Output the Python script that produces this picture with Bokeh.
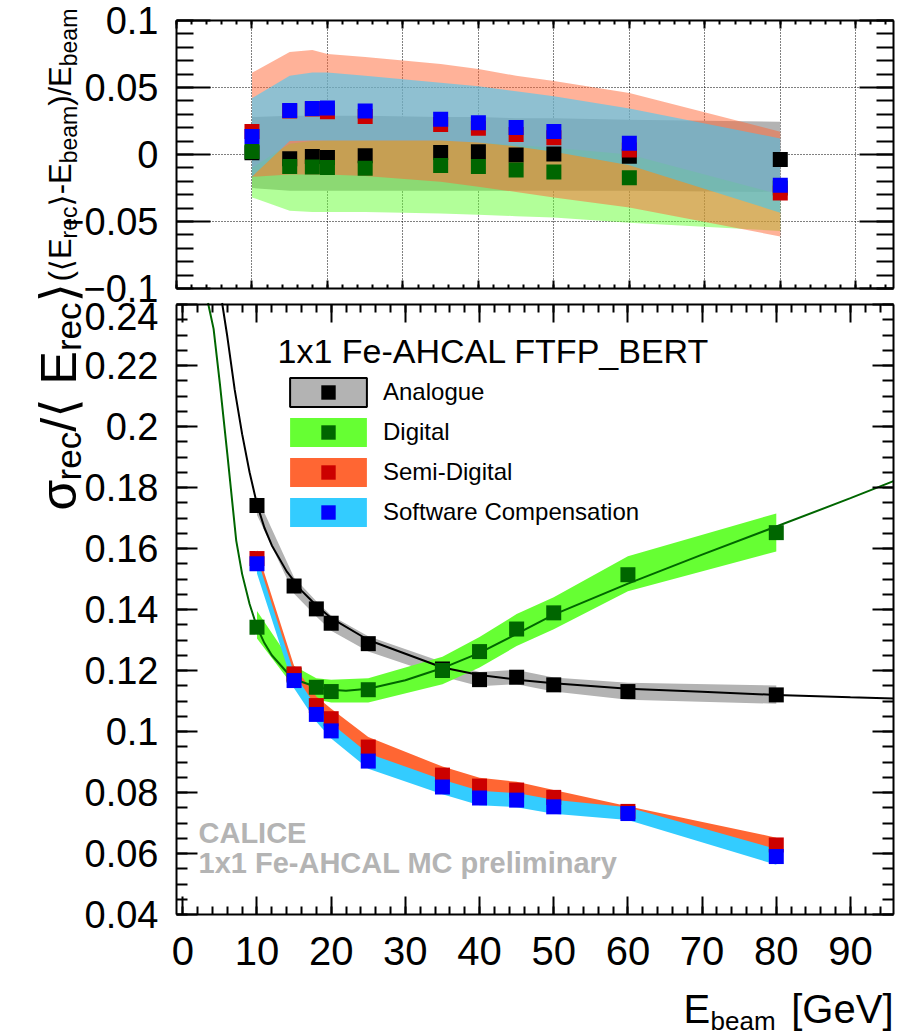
import numpy as np
from bokeh.plotting import figure
from bokeh.models import (Range1d, LinearAxis, FixedTicker, CustomJSTickFormatter,
                          Label, Legend, LegendItem)
from bokeh.layouts import column
from bokeh.embed import file_html
from bokeh.resources import INLINE

# ------------------------------------------------------------------ data
energy = [10, 15, 18, 20, 25, 35, 40, 45, 50, 60, 80]

# top panel: (<E_rec> - E_beam) / E_beam
lin_analogue = [0.0013, -0.0031, -0.0015, -0.0023, -0.0010, 0.0015, 0.0020, -0.0003, 0.0003, -0.0013, -0.0038]
lin_digital = [0.0023, -0.0089, -0.0094, -0.0097, -0.0102, -0.0082, -0.0089, -0.0115, -0.0130, -0.0173, -0.0250]
lin_semidigital = [0.0171, 0.0325, 0.0340, 0.0319, 0.0283, 0.0224, 0.0196, 0.0150, 0.0125, 0.0033, -0.0288]
lin_softcomp = [0.0135, 0.0329, 0.0344, 0.0347, 0.0324, 0.0263, 0.0237, 0.0201, 0.0171, 0.0084, -0.0230]

lin_band_analogue_lo = [-0.025, -0.027, -0.027, -0.027, -0.027, -0.027, -0.027, -0.027, -0.027, -0.027, -0.028]
lin_band_analogue_hi = [0.028, 0.029, 0.029, 0.029, 0.029, 0.028, 0.028, 0.027, 0.027, 0.026, 0.0245]
lin_band_digital_lo = [-0.032, -0.042, -0.043, -0.043, -0.043, -0.044, -0.045, -0.046, -0.047, -0.051, -0.057]
lin_band_digital_hi = [-0.010, 0.008, 0.010, 0.0105, 0.0105, 0.0105, 0.009, 0.007, 0.005, 0.000, -0.030]
lin_band_semidigital_lo = [-0.0166, -0.015, -0.015, -0.015, -0.016, -0.0204, -0.024, -0.028, -0.032, -0.0395, -0.0612]
lin_band_semidigital_hi = [0.061, 0.0765, 0.078, 0.075, 0.0727, 0.0676, 0.0638, 0.0587, 0.0548, 0.0459, 0.017]
lin_band_softcomp_lo = [-0.0166, 0.010, 0.0105, 0.0105, 0.0105, 0.0105, 0.009, 0.006, 0.002, -0.008, -0.0434]
lin_band_softcomp_hi = [0.042, 0.0587, 0.0612, 0.0612, 0.0587, 0.0536, 0.051, 0.0472, 0.0434, 0.0344, 0.012]

# bottom panel: sigma_rec / <E_rec>
res_analogue = [0.1741, 0.1477, 0.1402, 0.1355, 0.1288, 0.1205, 0.1170, 0.1178, 0.1153, 0.1131, 0.1120]
res_digital = [0.1342, 0.1185, 0.1145, 0.1131, 0.1137, 0.1200, 0.1262, 0.1336, 0.1389, 0.1514, 0.1652]
res_semidigital = [0.1567, 0.1189, 0.1085, 0.1042, 0.0949, 0.0857, 0.0821, 0.0808, 0.0784, 0.0738, 0.0628]
res_softcomp = [0.1550, 0.1167, 0.1056, 0.1002, 0.0903, 0.0818, 0.0782, 0.0775, 0.0753, 0.0731, 0.0590]

res_band_analogue_lo = [0.1710, 0.1452, 0.1377, 0.1330, 0.1262, 0.1180, 0.1148, 0.1155, 0.1131, 0.1104, 0.1091]
res_band_analogue_hi = [0.1770, 0.1505, 0.1427, 0.1380, 0.1312, 0.1228, 0.1195, 0.1202, 0.1177, 0.1160, 0.1151]
res_band_digital_lo = [0.1305, 0.1145, 0.1105, 0.1095, 0.1095, 0.1155, 0.1210, 0.1280, 0.1335, 0.1460, 0.1590]
res_band_digital_hi = [0.1395, 0.1215, 0.1175, 0.1170, 0.1175, 0.1245, 0.1310, 0.1385, 0.1440, 0.1575, 0.1715]
res_band_semidigital_lo = [0.1535, 0.1160, 0.1055, 0.1010, 0.0918, 0.0830, 0.0795, 0.0782, 0.0760, 0.0715, 0.0605]
res_band_semidigital_hi = [0.1595, 0.1215, 0.1115, 0.1075, 0.0982, 0.0885, 0.0848, 0.0835, 0.0808, 0.0755, 0.0652]
res_band_softcomp_lo = [0.1518, 0.1142, 0.1032, 0.0977, 0.0878, 0.0794, 0.0758, 0.0752, 0.0730, 0.0710, 0.0563]
res_band_softcomp_hi = [0.1570, 0.1190, 0.1080, 0.1027, 0.0928, 0.0842, 0.0806, 0.0798, 0.0776, 0.0752, 0.0615]

# fitted resolution curves
fit_analogue_e = [5.3, 6.0, 7.0, 8.0, 9.0, 10, 11, 12, 14, 16, 18, 20, 25, 30, 35, 40, 45, 50, 60, 70, 80, 90, 95.8]
fit_analogue = [0.2405, 0.2295, 0.2120, 0.1975, 0.1850, 0.1745, 0.1668, 0.1610, 0.1525, 0.1462, 0.1413, 0.1372,
                0.1300, 0.1255, 0.1210, 0.1185, 0.1170, 0.1158, 0.1140, 0.1130, 0.1120, 0.1112, 0.1108]
fit_digital_e = [3.4, 4.15, 5.0, 6.0, 7.2, 8, 9, 10, 11, 12, 14, 16, 18, 20, 22, 25, 30, 35, 40, 45, 50, 60, 70, 80,
                 90, 95.8]
fit_digital = [0.2405, 0.2320, 0.2140, 0.1910, 0.1626, 0.1516, 0.1418, 0.1342, 0.1290, 0.1250, 0.1195, 0.1163,
               0.1146, 0.1137, 0.1134, 0.1140, 0.1168, 0.1208, 0.1258, 0.1320, 0.1383, 0.1485, 0.1580, 0.1672,
               0.1765, 0.1821]

x_ticks = [0, 10, 20, 30, 40, 50, 60, 70, 80, 90]
x_minor = list(range(0, 96, 2))
top_y_ticks = [-0.1, -0.05, 0, 0.05, 0.1]
top_y_minor = [round(-0.1 + 0.01 * i, 3) for i in range(21)]
bot_y_ticks = [0.04, 0.06, 0.08, 0.1, 0.12, 0.14, 0.16, 0.18, 0.2, 0.22, 0.24]
bot_y_minor = [round(0.04 + 0.005 * i, 4) for i in range(41)]
top_grid_x = [10, 20, 30, 40, 50, 60, 70, 80, 90]
top_grid_y = [-0.05, 0, 0.05]

# ------------------------------------------------------------------ style
GRAY = "#b3b3b3"
GREEN_BAND = "#66ff33"
ORANGE = "#ff6633"
CYAN = "#33ccff"
GREEN_M = "#006600"
RED_M = "#cc0000"
BLUE_M = "#0000ff"
FONT = "Liberation Sans"
DV = "DejaVu Sans"
W = 898

# layout: each figure's frame fills its canvas; the visible pad frame is drawn by
# fixed-location axes. Page-pixel anchors of the pad frames:
TOP_H, BOT_H = 302, 732
PX_L, PX_R = 176, 893
T_XD = (0.0, 95.0)
T_YD = (-0.1, 0.1)
T_YP = (288, 20)
B_XD = (-0.85, 95.8)
B_YD = (0.04, 0.24)
B_YP = (914, 304)


def span(d, p0, p1, total):
    s = (d[1] - d[0]) / (p1 - p0)
    lo = d[0] - p0 * s
    return lo, lo + total * s


tx0, tx1 = span(T_XD, PX_L, PX_R, W)
bx0, bx1 = span(B_XD, PX_L, PX_R, W)
ts = (T_YD[1] - T_YD[0]) / (T_YP[0] - T_YP[1])
ty1 = T_YD[1] + T_YP[1] * ts
ty0 = ty1 - TOP_H * ts
bs = (B_YD[1] - B_YD[0]) / (B_YP[0] - B_YP[1])
by1 = B_YD[1] + (B_YP[1] - TOP_H) * bs
by0 = by1 - BOT_H * bs


def t_x(px):
    return tx0 + px / W * (tx1 - tx0)


def t_y(py):
    return ty1 - py * ts


def b_x(px):
    return bx0 + px / W * (bx1 - bx0)


def b_y(py):
    return by1 - (py - TOP_H) * bs


fmt_code = """
const v = Math.round(tick * 10000) / 10000;
return v.toString().replace('-', '\\u2212');
"""


def make_axis(ticks, minor, maj_in, min_in, loc, bounds, labels, size=38, standoff=15):
    ax = LinearAxis(ticker=FixedTicker(ticks=ticks, minor_ticks=minor),
                    fixed_location=loc, bounds=bounds,
                    major_tick_in=maj_in, major_tick_out=0,
                    minor_tick_in=min_in, minor_tick_out=0,
                    axis_line_width=2, major_tick_line_width=2, minor_tick_line_width=2,
                    axis_line_color="black", major_tick_line_color="black",
                    minor_tick_line_color="black")
    if labels:
        ax.formatter = CustomJSTickFormatter(code=fmt_code)
        ax.major_label_text_font = FONT
        ax.major_label_text_font_size = f"{size}px"
        ax.major_label_standoff = standoff
        ax.major_label_text_color = "black"
    else:
        ax.formatter = CustomJSTickFormatter(code="return '';")
        ax.major_label_standoff = 0
        ax.major_label_text_font_size = "1px"
    return ax


def grid_axis(ticks, length, loc, bounds):
    # dotted grid lines drawn as long inward ticks, limited to the pad
    return LinearAxis(ticker=FixedTicker(ticks=ticks, minor_ticks=[]),
                      fixed_location=loc, bounds=bounds,
                      major_tick_in=length, major_tick_out=0, minor_tick_in=0, minor_tick_out=0,
                      axis_line_color=None, major_tick_line_color="black",
                      major_tick_line_width=1, major_tick_line_dash="1 2",
                      formatter=CustomJSTickFormatter(code="return '';"),
                      major_label_standoff=0, major_label_text_font_size="1px",
                      level="underlay")


def base_fig(height, xr, yr):
    p = figure(width=W, height=height, x_range=Range1d(*xr), y_range=Range1d(*yr),
               output_backend="svg", toolbar_location=None,
               x_axis_location=None, y_axis_location=None,
               min_border_left=0, min_border_right=0, min_border_top=0, min_border_bottom=0)
    p.outline_line_color = None
    p.background_fill_color = "white"
    p.border_fill_color = "white"
    p.grid.visible = False
    return p


# ------------------------------------------------------------------ top panel
fig_top = base_fig(TOP_H, (tx0, tx1), (ty0, ty1))
fig_top.add_layout(grid_axis(top_grid_y, PX_R - PX_L, T_XD[0], T_YD), "left")
fig_top.add_layout(grid_axis(top_grid_x, T_YP[0] - T_YP[1], T_YD[0], T_XD), "below")
fig_top.add_layout(make_axis(top_y_ticks, top_y_minor, 34, 17, T_XD[0], T_YD, True, 38, 18), "left")
fig_top.add_layout(make_axis(top_y_ticks, top_y_minor, 34, 17, T_XD[1], T_YD, False), "right")
fig_top.add_layout(make_axis(x_ticks, x_minor, 8, 4, T_YD[0], T_XD, False), "below")
fig_top.add_layout(make_axis(x_ticks, x_minor, 8, 4, T_YD[1], T_XD, False), "above")

fig_top.varea(x=energy, y1=lin_band_analogue_lo, y2=lin_band_analogue_hi, fill_color=GRAY, fill_alpha=1.0)
fig_top.varea(x=energy, y1=lin_band_digital_lo, y2=lin_band_digital_hi, fill_color=GREEN_BAND, fill_alpha=0.5)
fig_top.varea(x=energy, y1=lin_band_semidigital_lo, y2=lin_band_semidigital_hi, fill_color=ORANGE, fill_alpha=0.5)
fig_top.varea(x=energy, y1=lin_band_softcomp_lo, y2=lin_band_softcomp_hi, fill_color=CYAN, fill_alpha=0.55)
for vals, col in ((lin_analogue, "black"), (lin_digital, GREEN_M),
                  (lin_semidigital, RED_M), (lin_softcomp, BLUE_M)):
    fig_top.scatter(energy, vals, marker="square", size=15, fill_color=col, line_color=None)

# ------------------------------------------------------------------ bottom panel
fig_bot = base_fig(BOT_H, (bx0, bx1), (by0, by1))
fig_bot.add_layout(make_axis(bot_y_ticks, bot_y_minor, 21, 11, B_XD[0], B_YD, True, 38, 18), "left")
fig_bot.add_layout(make_axis(bot_y_ticks, bot_y_minor, 21, 11, B_XD[1], B_YD, False), "right")
fig_bot.add_layout(make_axis(x_ticks, x_minor, 18, 8, B_YD[0], B_XD, True, 40, 22), "below")
fig_bot.add_layout(make_axis(x_ticks, x_minor, 18, 8, B_YD[1], B_XD, False), "above")

band_a = fig_bot.varea(x=energy, y1=res_band_analogue_lo, y2=res_band_analogue_hi, fill_color=GRAY)
band_d = fig_bot.varea(x=energy, y1=res_band_digital_lo, y2=res_band_digital_hi, fill_color=GREEN_BAND)
band_s = fig_bot.varea(x=energy, y1=res_band_semidigital_lo, y2=res_band_semidigital_hi, fill_color=ORANGE)
band_c = fig_bot.varea(x=energy, y1=res_band_softcomp_lo, y2=res_band_softcomp_hi, fill_color=CYAN)
fig_bot.line(fit_analogue_e, fit_analogue, line_color="black", line_width=2)
fig_bot.line(fit_digital_e, fit_digital, line_color=GREEN_M, line_width=2)
mk_a = fig_bot.scatter(energy, res_analogue, marker="square", size=15, fill_color="black", line_color=None)
mk_d = fig_bot.scatter(energy, res_digital, marker="square", size=15, fill_color=GREEN_M, line_color=None)
mk_s = fig_bot.scatter(energy, res_semidigital, marker="square", size=15, fill_color=RED_M, line_color=None)
mk_c = fig_bot.scatter(energy, res_softcomp, marker="square", size=15, fill_color=BLUE_M, line_color=None)
# legend-only outline for the Analogue entry (never drawn in the pad)
outline_a = fig_bot.quad(left=energy, right=energy, top=res_band_analogue_hi, bottom=res_band_analogue_lo,
                         fill_alpha=0, line_color="black", line_width=2, visible=False)

legend = Legend(items=[
    LegendItem(label="Analogue", renderers=[band_a, outline_a, mk_a]),
    LegendItem(label="Digital", renderers=[band_d, mk_d]),
    LegendItem(label="Semi-Digital", renderers=[band_s, mk_s]),
    LegendItem(label="Software Compensation", renderers=[band_c, mk_c]),
], location=(275, 499), glyph_width=96, glyph_height=36, label_height=36, spacing=4,
    padding=5, margin=0, label_standoff=7, label_text_font=FONT, label_text_font_size="24px",
    label_text_color="black", background_fill_alpha=0, border_line_alpha=0,
    inactive_fill_alpha=0)
fig_bot.add_layout(legend)


# ------------------------------------------------------------------ texts
def add_text(which, px, py, text, size, font=FONT, bold=False, angle=0.0,
             align="left", color="black"):
    if angle == 0.0:
        py = py - 0.35 * size   # compensate the renderer's baseline placement
    for w in which:
        if w == "top":
            p, fx, fy = fig_top, t_x, t_y
        else:
            p, fx, fy = fig_bot, b_x, b_y
        p.add_layout(Label(x=fx(px), y=fy(py), text=text, text_font=font,
                           text_font_size=f"{size}px",
                           text_font_style="bold" if bold else "normal",
                           angle=angle, text_align=align, text_baseline="alphabetic",
                           text_color=color))


def vertical_title(segs, x_main, x_sub, y_start):
    y = y_start
    for text, size, is_sub, font, w_em in segs:
        w = w_em * size
        y0, y1 = y - w, y
        which = []
        if y0 < TOP_H - 0.5:
            which.append("top")
        if y1 > TOP_H + 0.5:
            which.append("bot")
        if text:
            add_text(which, x_sub if is_sub else x_main, y, text, size, font=font,
                     angle=np.pi / 2)
        y = y0


top_title = [
    ("(", 31, False, FONT, 0.333), ("\u27e8", 31, False, DV, 0.39), ("E", 31, False, FONT, 0.667),
    ("rec", 23, True, FONT, 1.389), ("\u27e9", 31, False, DV, 0.39), ("-E", 31, False, FONT, 1.0),
    ("beam", 23, True, FONT, 2.501), (")/E", 31, False, FONT, 1.278), ("beam", 23, True, FONT, 2.501),
]
bottom_title = [
    ("\u03c3", 50, False, FONT, 0.6), ("rec", 35, True, FONT, 1.389), ("/", 50, False, FONT, 0.278),
    ("\u27e8", 50, False, DV, 0.39), ("", 50, False, FONT, 0.278), ("E", 50, False, FONT, 0.667),
    ("rec", 35, True, FONT, 1.389), ("\u27e9", 50, False, DV, 0.39),
]
# the closing bracket of the lower title sits just above the pad junction
bottom_start = TOP_H + sum(s[1] * s[4] for s in bottom_title[:-1])
vertical_title(bottom_title, 58, 68, bottom_start)
vertical_title(top_title, 60, 68, 281)

# x axis title
add_text(["bot"], 683, 1022, "E", 40)
add_text(["bot"], 710, 1030, "beam", 26)
add_text(["bot"], 893, 1022, "[GeV]", 40, align="right")

# legend header and CALICE tag
add_text(["bot"], 277, 362, "1x1 Fe-AHCAL FTFP_BERT", 34)
add_text(["bot"], 198, 843, "CALICE", 29, bold=True, color="#b4b4b4")
add_text(["bot"], 198, 873, "1x1 Fe-AHCAL MC preliminary", 29, bold=True, color="#b4b4b4")

layout = column(fig_top, fig_bot, spacing=0)
open("out.html", "w").write(file_html(layout, INLINE))
